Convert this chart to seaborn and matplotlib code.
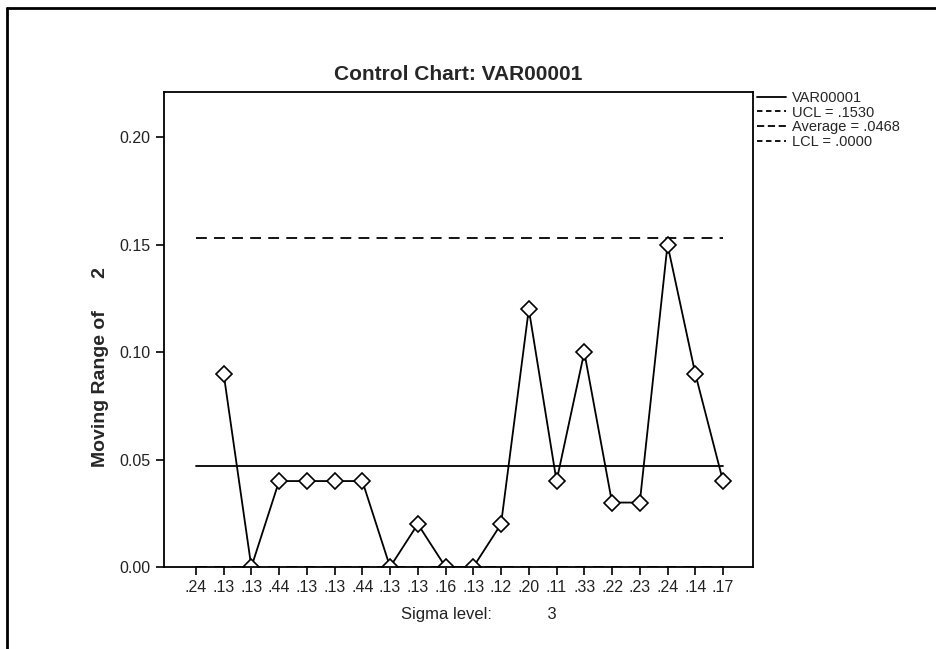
import numpy as np
import pandas as pd
import matplotlib
matplotlib.use("Agg")
import matplotlib.pyplot as plt
from matplotlib.lines import Line2D
import seaborn as sns

# data
tick_labels = [".24", ".13", ".13", ".44", ".13", ".13", ".44", ".13", ".13", ".16",
               ".13", ".12", ".20", ".11", ".33", ".22", ".23", ".24", ".14", ".17"]
moving_range = [np.nan, 0.09, 0.00, 0.04, 0.04, 0.04, 0.04, 0.00, 0.02, 0.00,
                0.00, 0.02, 0.12, 0.04, 0.10, 0.03, 0.03, 0.15, 0.09, 0.04]
ucl = 0.1530
average = 0.0468
lcl = 0.0000

df = pd.DataFrame({"pos": np.arange(len(tick_labels)), "mr": moving_range})

sns.set_style("ticks")
plt.rcParams["font.family"] = ["Liberation Sans", "DejaVu Sans"]

fig = plt.figure(figsize=(9.37, 6.49), dpi=100)
ax = fig.add_axes([0.175, 0.1263, 0.6286, 0.7319])

# control limits
ax.plot([0, len(tick_labels) - 1], [ucl, ucl], color="black", lw=1.3, ls=(0, (6, 4)))
ax.plot([0, len(tick_labels) - 1], [average, average], color="black", lw=1.3)
ax.plot([0, len(tick_labels) - 1], [lcl, lcl], color="black", lw=1.3, ls=(0, (6, 4)))

sns.lineplot(data=df, x="pos", y="mr", ax=ax, color="black", lw=1.3,
             marker="D", markersize=8, markerfacecolor="white",
             markeredgecolor="black", markeredgewidth=1.2)

ax.set_xlim(-1.15, 20.08)
ax.set_ylim(0, 0.221)
ax.set_xticks(df["pos"])
ax.set_xticklabels(tick_labels, fontsize=11.5, color="#222222")
ax.set_yticks([0.0, 0.05, 0.10, 0.15, 0.20])
ax.set_yticklabels(["0.00", "0.05", "0.10", "0.15", "0.20"], fontsize=11.5, color="#222222")
ax.tick_params(axis="both", length=6, width=1.2, color="black")
for s in ax.spines.values():
    s.set_linewidth(1.3)
    s.set_color("black")

ax.set_xlabel("Sigma level:            3", fontsize=12, color="#222222")
ax.xaxis.set_label_coords(0.535, -0.085)
ax.set_ylabel("Moving Range of      2", fontsize=14, fontweight="bold")
ax.yaxis.set_label_coords(-0.093, 0.42)
ax.set_title("Control Chart: VAR00001", fontsize=15, fontweight="bold", pad=9)

handles = [
    Line2D([], [], color="black", lw=1.3),
    Line2D([], [], color="black", lw=1.3, ls=(0, (3, 2))),
    Line2D([], [], color="black", lw=1.3, ls=(0, (4, 2))),
    Line2D([], [], color="black", lw=1.3, ls=(0, (3, 2))),
]
labels = ["VAR00001", "UCL = .1530", "Average = .0468", "LCL = .0000"]
fig.legend(handles, labels, loc="upper left", bbox_to_anchor=(0.808, 0.86),
           frameon=False, fontsize=10.5, handlelength=2.0, handletextpad=0.4,
           labelspacing=0.05, borderaxespad=0, borderpad=0)

# outer frame of the scanned page
fig.add_artist(Line2D([0.007, 1.0], [0.988, 0.988], transform=fig.transFigure, color="black", lw=2))
fig.add_artist(Line2D([0.007, 0.007], [0.0, 0.988], transform=fig.transFigure, color="black", lw=2))

fig.savefig("out.png", dpi=100)
